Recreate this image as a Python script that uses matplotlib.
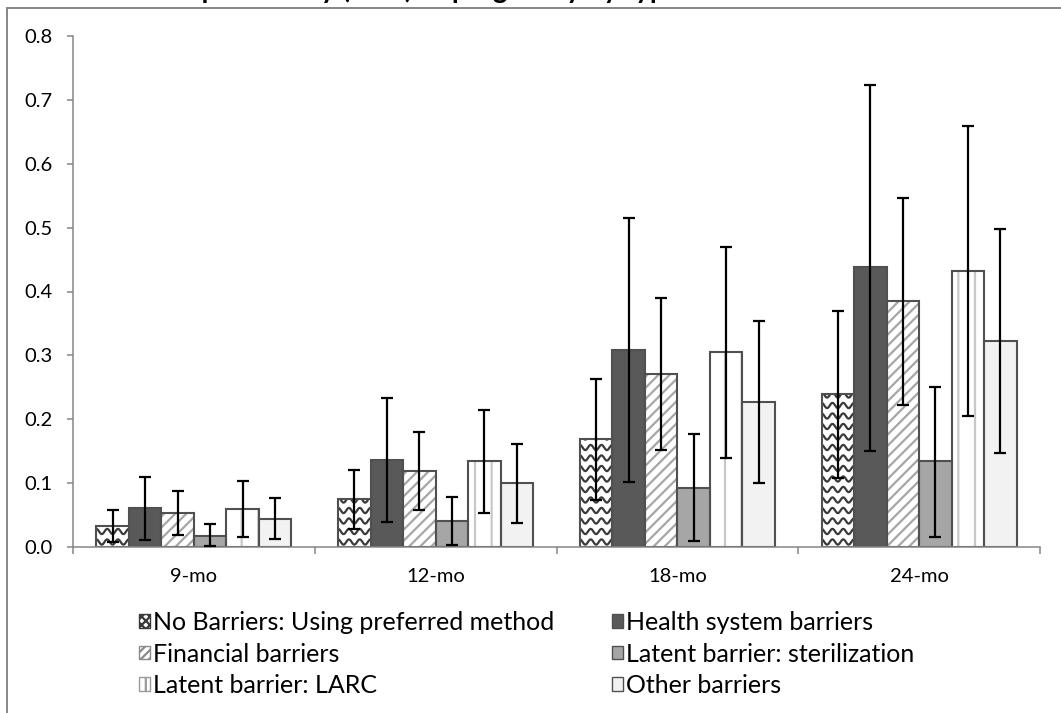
import numpy as np
import matplotlib.pyplot as plt
from matplotlib.patches import Patch, Rectangle

plt.rcParams['font.family'] = ['Lato', 'DejaVu Sans']
plt.rcParams['hatch.linewidth'] = 1.6

# data
categories = ['9-mo', '12-mo', '18-mo', '24-mo']
series_names = ['No Barriers: Using preferred method', 'Health system barriers',
                'Financial barriers', 'Latent barrier: sterilization',
                'Latent barrier: LARC', 'Other barriers']

no_barriers = [0.033, 0.075, 0.169, 0.240]
no_barriers_lo = [0.008, 0.028, 0.074, 0.108]
no_barriers_hi = [0.058, 0.121, 0.263, 0.369]

health = [0.061, 0.136, 0.308, 0.438]
health_lo = [0.011, 0.039, 0.102, 0.151]
health_hi = [0.110, 0.233, 0.515, 0.724]

financial = [0.053, 0.119, 0.271, 0.385]
financial_lo = [0.019, 0.058, 0.152, 0.223]
financial_hi = [0.088, 0.180, 0.390, 0.546]

sterilization = [0.018, 0.041, 0.093, 0.134]
sterilization_lo = [0.002, 0.003, 0.010, 0.016]
sterilization_hi = [0.036, 0.079, 0.177, 0.250]

larc = [0.060, 0.135, 0.305, 0.432]
larc_lo = [0.016, 0.053, 0.140, 0.205]
larc_hi = [0.103, 0.214, 0.470, 0.659]

other = [0.044, 0.100, 0.227, 0.322]
other_lo = [0.012, 0.038, 0.100, 0.147]
other_hi = [0.077, 0.162, 0.354, 0.498]

values = [no_barriers, health, financial, sterilization, larc, other]
lows = [no_barriers_lo, health_lo, financial_lo, sterilization_lo, larc_lo, other_lo]
highs = [no_barriers_hi, health_hi, financial_hi, sterilization_hi, larc_hi, other_hi]

# fill, hatch, hatch colour per series (wave for the first one is drawn by hand)
fills = ['white', '#595959', 'white', '#a6a6a6', 'white', '#f2f2f2']
hatches = [None, None, '///', None, '|', None]
hatch_cols = [None, None, '#a6a6a6', None, '#c8c8c8', None]
edge = '#505050'

W, H = 1061, 713
fig = plt.figure(figsize=(W / 100, H / 100), dpi=100)
ax = fig.add_axes([73 / W, 1 - 547 / H, (1040 - 73) / W, (547 - 36) / H])
ax.set_xlim(-0.5, 3.5)
ax.set_ylim(0, 0.8)

x = np.arange(len(categories))
w = 0.1344

# pixel scale for the hand-drawn wave pattern
sx = ax.bbox.width / 4.0
sy = ax.bbox.height / 0.8

for i, vals in enumerate(values):
    pos = x + (i - 2.5) * w
    if hatches[i]:
        ax.bar(pos, vals, w, color=fills[i], edgecolor=hatch_cols[i], hatch=hatches[i],
               linewidth=0, zorder=1)
    else:
        bars = ax.bar(pos, vals, w, color=fills[i], linewidth=0, zorder=1)
    if i == 0:
        # wavy pattern clipped to each bar
        for rect in bars:
            x0 = rect.get_x()
            hpx = rect.get_height() * sy
            xs = np.linspace(x0, x0 + w, 80)
            xp = (xs - x0) * sx
            for row in np.arange(5, hpx + 6, 10.5):
                ys = (row + 2.6 * np.cos(2 * np.pi * xp / 10.8)) / sy
                ln, = ax.plot(xs, ys, color='#3a3a3a', lw=1.6, zorder=1.5)
                ln.set_clip_path(rect)
    ax.bar(pos, vals, w, fill=False, edgecolor=edge, linewidth=1.5, zorder=2)
    v = np.array(vals)
    err = [v - np.array(lows[i]), np.array(highs[i]) - v]
    ax.errorbar(pos, v, yerr=err, fmt='none', ecolor='black', elinewidth=1.6,
                capsize=4.3, capthick=1.6, zorder=3)

# axes styling
for s in ['top', 'right']:
    ax.spines[s].set_visible(False)
for s in ['left', 'bottom']:
    ax.spines[s].set_color('#868686')
    ax.spines[s].set_linewidth(1.1)

ax.set_yticks(np.arange(0, 0.81, 0.1))
ax.set_yticklabels(['%.1f' % t for t in np.arange(0, 0.81, 0.1)])
ax.tick_params(axis='y', direction='out', length=4.3, width=1.1, color='#868686',
               pad=10.5, labelsize=14.5)

ax.set_xticks([-0.5, 0.5, 1.5, 2.5, 3.5])
ax.set_xticklabels([])
ax.tick_params(axis='x', which='major', direction='out', length=5, width=1.1, color='#868686')
ax.set_xticks(x, minor=True)
ax.set_xticklabels(categories, minor=True)
ax.tick_params(axis='x', which='minor', length=0, pad=15, labelsize=14.5)

# legend (column-wise fill, so reorder)
handles = [Patch(facecolor='white', edgecolor='#3a3a3a', hatch='xxxx'),
           Patch(facecolor=fills[1], edgecolor=edge),
           Patch(facecolor='white', edgecolor='#8a8a8a', hatch='////'),
           Patch(facecolor=fills[3], edgecolor=edge),
           Patch(facecolor='white', edgecolor='#9a9a9a', hatch='||'),
           Patch(facecolor=fills[5], edgecolor=edge)]
order = [0, 2, 4, 1, 3, 5]
fig.legend([handles[k] for k in order], [series_names[k] for k in order],
           ncol=2, loc='upper left', bbox_to_anchor=(139 / W, 1 - 611 / H),
           frameon=False, fontsize=18, handlelength=0.45, handleheight=0.45,
           handletextpad=0.12, columnspacing=2.3, labelspacing=0.34,
           borderpad=0, borderaxespad=0)

# chart border (left and top edges visible)
fig.add_artist(Rectangle((7 / W, -0.2), 2, 1.2 - 8 / H, transform=fig.transFigure,
                         fill=False, edgecolor='#868686', linewidth=1.4))

# title, mostly cut off at the top edge (only descenders show)
fig.text(681 / W, 1 + 2 / H, 'Cumulative probability (95%) of pregnancy by type',
         ha='right', va='baseline', fontsize=20, fontweight='bold')

fig.savefig('out.png', dpi=100)
